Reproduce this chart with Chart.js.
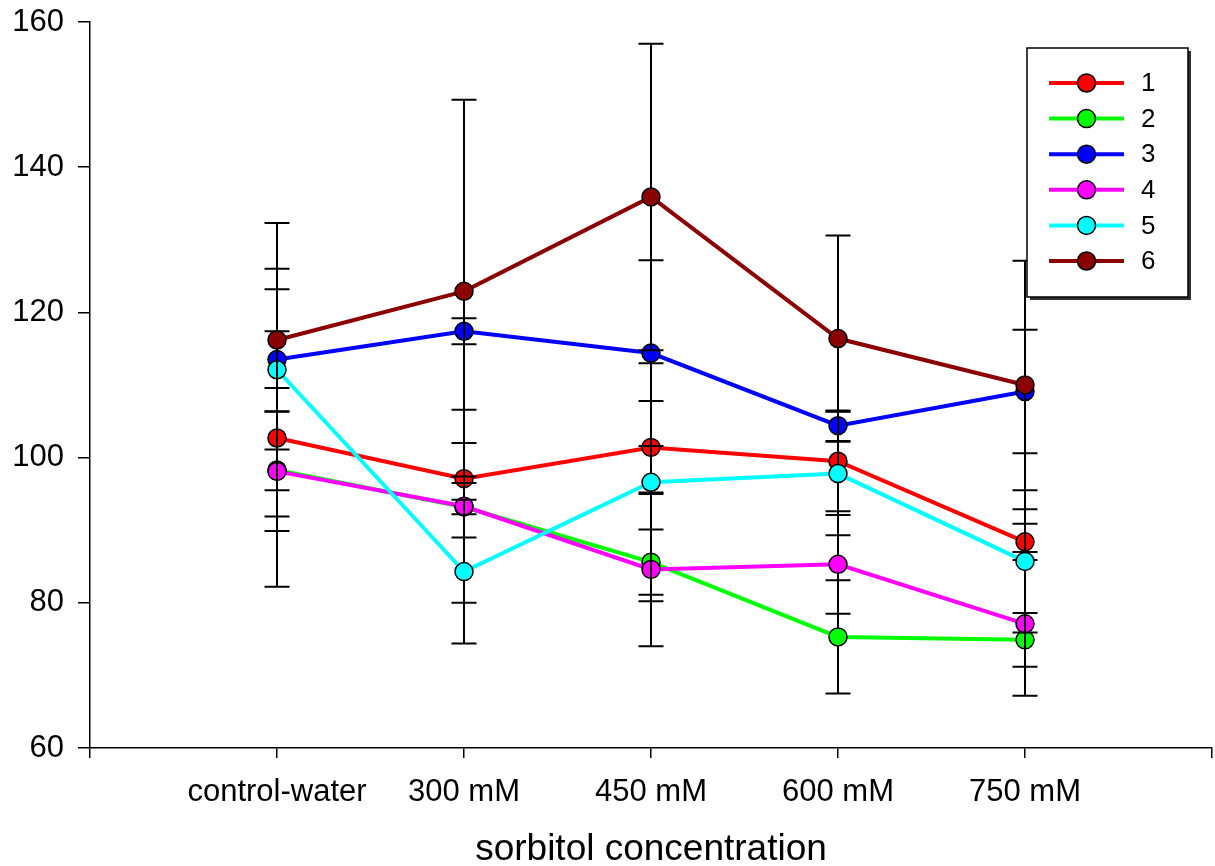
<!DOCTYPE html>
<html>
<head>
<meta charset="utf-8">
<script src="https://cdn.jsdelivr.net/npm/chart.js@4.4.1/dist/chart.umd.min.js"></script>
<style>
  html, body { margin: 0; padding: 0; background: #fff; }
  #wrap { width: 1215px; height: 866px; }
</style>
</head>
<body>
<div id="wrap"><canvas id="chart" width="1215" height="866"></canvas></div>
<script>
  var categories = ["control-water", "300 mM", "450 mM", "600 mM", "750 mM"];
  var seriesNames = ["1", "2", "3", "4", "5", "6"];

  // group means
  var s1 = [102.7, 97.1, 101.4, 99.5, 88.4];
  var s2 = [98.3, 93.2, 85.6, 75.3, 74.9];
  var s3 = [113.5, 117.4, 114.4, 104.4, 109.1];
  var s4 = [98.1, 93.3, 84.6, 85.3, 77.1];
  var s5 = [112.1, 84.3, 96.6, 97.8, 85.7];
  var s6 = [116.2, 122.9, 135.9, 116.4, 110.0];

  // error (+/-) for each mean
  var e1 = [20.5, 4.9, 6.4, 6.9, 2.5];
  var e2 = [2.8, 4.2, 4.5, 7.8, 3.7];
  var e3 = [3.9, 1.8, 12.8, 2.1, 8.5];
  var e4 = [8.2, 13.3, 10.6, 6.8, 9.9];
  var e5 = [20.2, 9.9, 16.4, 8.5, 9.8];
  var e6 = [9.8, 26.4, 21.1, 14.2, 17.1];

  var yMin = 60, yMax = 160, yStep = 20;

  var means = [s1, s2, s3, s4, s5, s6];
  var errors = [e1, e2, e3, e4, e5, e6];
  var colors = ["#ff0000", "#00ff00", "#0000ff", "#ff00ff", "#00ffff", "#8b0000"];
  var FONT = "'Liberation Sans', Arial, sans-serif";

  var datasets = means.map(function (vals, i) {
    return {
      label: seriesNames[i],
      data: vals.map(function (v, j) { return { x: j, y: v }; }),
      err: errors[i],
      borderColor: colors[i],
      backgroundColor: colors[i],
      borderWidth: 4,
      pointRadius: 9,
      pointHoverRadius: 9,
      pointBorderColor: "#000",
      pointBorderWidth: 1.5,
      pointBackgroundColor: colors[i],
      tension: 0,
      // later series sit on top
      order: means.length - 1 - i
    };
  });

  // whiskers drawn just before each series' own line and markers
  var errorBars = {
    id: "errorBars",
    beforeDatasetDraw: function (chart, args) {
      var ds = chart.data.datasets[args.index];
      var ys = chart.scales.y;
      var ctx = chart.ctx;
      ctx.save();
      ctx.strokeStyle = "#000";
      ctx.lineWidth = 2;
      args.meta.data.forEach(function (pt, j) {
        var v = ds.data[j].y, e = ds.err[j];
        var top = ys.getPixelForValue(v + e);
        var bot = ys.getPixelForValue(v - e);
        var x = pt.x;
        ctx.beginPath();
        ctx.moveTo(x, top);
        ctx.lineTo(x, bot);
        ctx.moveTo(x - 12.5, top);
        ctx.lineTo(x + 12.5, top);
        ctx.moveTo(x - 12.5, bot);
        ctx.lineTo(x + 12.5, bot);
        ctx.stroke();
      });
      ctx.restore();
    }
  };

  // boxed key in the upper right corner
  var keyBox = {
    id: "keyBox",
    afterDraw: function (chart) {
      var ctx = chart.ctx;
      var bx = 1027, by = 48, bw = 161, bh = 249;
      ctx.save();
      ctx.fillStyle = "#333";
      ctx.fillRect(bx + 3, by + 3, bw, bh);
      ctx.fillStyle = "#fff";
      ctx.fillRect(bx, by, bw, bh);
      ctx.strokeStyle = "#000";
      ctx.lineWidth = 1.5;
      ctx.strokeRect(bx, by, bw, bh);
      chart.data.datasets.forEach(function (ds, i) {
        var y = by + 35 + i * 35.6;
        ctx.strokeStyle = ds.borderColor;
        ctx.lineWidth = 4;
        ctx.beginPath();
        ctx.moveTo(bx + 22, y);
        ctx.lineTo(bx + 97, y);
        ctx.stroke();
        ctx.beginPath();
        ctx.arc(bx + 59.5, y, 9, 0, Math.PI * 2);
        ctx.fillStyle = ds.backgroundColor;
        ctx.fill();
        ctx.lineWidth = 1.5;
        ctx.strokeStyle = "#000";
        ctx.stroke();
        ctx.fillStyle = "#000";
        ctx.font = "26px " + FONT;
        ctx.textBaseline = "middle";
        ctx.textAlign = "left";
        ctx.fillText(ds.label, bx + 114, y + 1);
      });
      ctx.restore();
    }
  };

  new Chart(document.getElementById("chart").getContext("2d"), {
    type: "line",
    data: { datasets: datasets },
    plugins: [errorBars, keyBox],
    options: {
      responsive: false,
      animation: false,
      events: [],
      layout: { autoPadding: false, padding: { top: 22, right: 3, left: 0, bottom: 0 } },
      plugins: { legend: { display: false }, tooltip: { enabled: false } },
      scales: {
        x: {
          type: "linear",
          min: -1,
          max: categories.length,
          afterFit: function (s) {
            s.height = 118;
            s.paddingLeft = 0;
            s.paddingRight = 0;
          },
          ticks: {
            stepSize: 1,
            autoSkip: false,
            maxRotation: 0,
            padding: 16,
            color: "#000",
            font: { family: FONT, size: 31 },
            callback: function (v) {
              return categories[v] !== undefined ? categories[v] : "";
            }
          },
          grid: {
            drawOnChartArea: false,
            drawTicks: true,
            tickLength: 10,
            color: "#000",
            lineWidth: 1.5
          },
          border: { display: true, color: "#000", width: 1.5 },
          title: {
            display: true,
            text: "sorbitol concentration",
            color: "#000",
            font: { family: FONT, size: 37, lineHeight: 1.2 },
            padding: { top: 0, bottom: -6 }
          }
        },
        y: {
          min: yMin,
          max: yMax,
          afterFit: function (s) {
            s.width = 90;
            s.paddingTop = 0;
            s.paddingBottom = 0;
          },
          ticks: {
            stepSize: yStep,
            padding: 14,
            color: "#000",
            font: { family: FONT, size: 31 }
          },
          grid: {
            drawOnChartArea: false,
            drawTicks: true,
            tickLength: 12,
            color: "#000",
            lineWidth: 1.5
          },
          border: { display: true, color: "#000", width: 1.5 }
        }
      }
    }
  });
</script>
</body>
</html>
